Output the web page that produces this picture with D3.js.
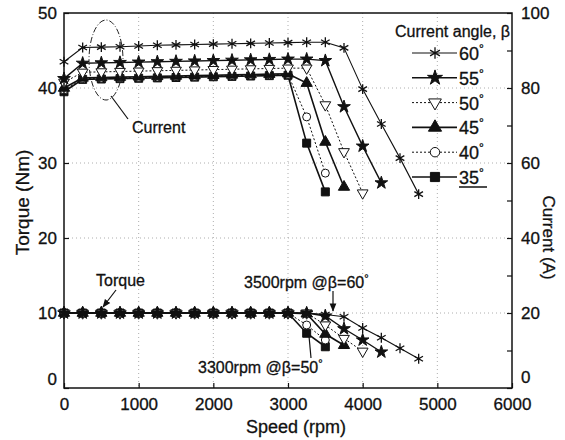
<!DOCTYPE html>
<html>
<head>
<meta charset="utf-8">
<script src="https://cdn.jsdelivr.net/npm/d3@7"></script>
<style>
  body { margin: 0; background: #fff; }
  svg text { font-family: "Liberation Sans", Arial, sans-serif; fill: #111; }
</style>
</head>
<body>
<svg width="565" height="440"></svg>
<script>
// speed points (rpm), markers every 250 rpm
var speeds = [0, 250, 500, 750, 1000, 1250, 1500, 1750, 2000, 2250, 2500, 2750, 3000, 3250, 3500, 3750, 4000, 4250, 4500, 4750];

var angles = ["60", "55", "50", "45", "40", "35"];

// current (A), right axis
var current60 = [87.0, 90.8, 90.9, 91.0, 91.2, 91.4, 91.5, 91.6, 91.7, 91.8, 91.9, 92.0, 92.1, 92.2, 92.2, 90.7, 79.7, 70.4, 61.3, 51.7];
var current55 = [82.5, 86.6, 86.7, 86.8, 86.9, 87.0, 87.1, 87.2, 87.3, 87.4, 87.5, 87.6, 87.7, 87.7, 87.3, 75.0, 64.5, 54.7];
var current50 = [81.5, 84.2, 84.3, 84.4, 84.5, 84.6, 84.7, 84.8, 84.9, 85.0, 85.1, 85.2, 85.3, 85.3, 75.5, 63.0, 52.0];
var current45 = [80.0, 82.7, 82.8, 82.9, 83.0, 83.1, 83.2, 83.3, 83.4, 83.5, 83.6, 83.7, 83.8, 81.3, 65.6, 53.6];
var current40 = [79.5, 82.5, 82.6, 82.7, 82.8, 82.9, 83.0, 83.1, 83.2, 83.3, 83.4, 83.5, 83.6, 72.3, 57.3];
var current35 = [79.0, 82.3, 82.4, 82.5, 82.6, 82.7, 82.8, 82.9, 83.0, 83.1, 83.2, 83.3, 83.4, 65.3, 52.3];

// torque (Nm), left axis
var torque60 = [10.0, 10.0, 10.0, 10.0, 10.0, 10.0, 10.0, 10.0, 10.0, 10.0, 10.0, 10.0, 10.0, 10.0, 9.8, 9.5, 8.0, 6.7, 5.3, 3.9];
var torque55 = [10.0, 10.0, 10.0, 10.0, 10.0, 10.0, 10.0, 10.0, 10.0, 10.0, 10.0, 10.0, 10.0, 10.0, 9.6, 7.9, 6.4, 4.8];
var torque50 = [10.0, 10.0, 10.0, 10.0, 10.0, 10.0, 10.0, 10.0, 10.0, 10.0, 10.0, 10.0, 10.0, 10.0, 8.4, 6.6, 4.9];
var torque45 = [10.0, 10.0, 10.0, 10.0, 10.0, 10.0, 10.0, 10.0, 10.0, 10.0, 10.0, 10.0, 10.0, 9.9, 7.2, 5.7];
var torque40 = [10.0, 10.0, 10.0, 10.0, 10.0, 10.0, 10.0, 10.0, 10.0, 10.0, 10.0, 10.0, 10.0, 8.4, 6.4];
var torque35 = [10.0, 10.0, 10.0, 10.0, 10.0, 10.0, 10.0, 10.0, 10.0, 10.0, 10.0, 10.0, 10.0, 7.3, 5.5];

var xTicks = [0, 1000, 2000, 3000, 4000, 5000, 6000];
var leftTicks = [0, 10, 20, 30, 40, 50];
var rightTicks = [0, 20, 40, 60, 80, 100];

var currents = [current60, current55, current50, current45, current40, current35];
var torques = [torque60, torque55, torque50, torque45, torque40, torque35];

// styles per series
var styles = [
    { symbol: d3.symbolAsterisk, size: 70, fill: "none", dash: null, width: 1.1 },
    { symbol: d3.symbolStar, size: 50, fill: "#111", dash: null, width: 1.4 },
    { symbol: d3.symbolTriangle, size: 50, fill: "#fff", dash: "2,2", width: 1.0, rotate: 180 },
    { symbol: d3.symbolTriangle, size: 55, fill: "#111", dash: null, width: 1.6 },
    { symbol: d3.symbolCircle, size: 50, fill: "#fff", dash: "2,2", width: 1.0 },
    { symbol: d3.symbolSquare, size: 64, fill: "#111", dash: null, width: 1.6 }
];

// plot box (don't use "top" - clashes with window.top)
var pLeft = 64, pRight = 512, pTop = 13, pBottom = 388;

var svg = d3.select("svg");

var x = d3.scaleLinear().domain([0, 6000]).range([pLeft, pRight]);
var yL = d3.scaleLinear().domain([0, 50]).range([pBottom, pTop]);
var yR = d3.scaleLinear().domain([0, 100]).range([pBottom, pTop]);

// grid
var grid = svg.append("g").attr("stroke", "#999").attr("stroke-width", 0.8).attr("stroke-dasharray", "1,3");
grid.selectAll(".gx").data(xTicks.slice(1, -1)).enter().append("line")
    .attr("x1", function (d) { return x(d); }).attr("x2", function (d) { return x(d); })
    .attr("y1", pTop).attr("y2", pBottom);
grid.selectAll(".gy").data(leftTicks.slice(1, -1)).enter().append("line")
    .attr("y1", function (d) { return yL(d); }).attr("y2", function (d) { return yL(d); })
    .attr("x1", pLeft).attr("x2", pRight);

var plot = svg.append("g");

function drawSeries(vals, yScale, st) {
    var pts = vals.map(function (v, i) { return [speeds[i], v]; });
    var line = d3.line()
        .x(function (d) { return x(d[0]); })
        .y(function (d) { return yScale(d[1]); });
    plot.append("path")
        .datum(pts)
        .attr("d", line)
        .attr("fill", "none")
        .attr("stroke", "#111")
        .attr("stroke-width", st.width)
        .attr("stroke-dasharray", st.dash);
    plot.selectAll(null).data(pts).enter().append("path")
        .attr("d", d3.symbol().type(st.symbol).size(st.size))
        .attr("transform", function (d) {
            return "translate(" + x(d[0]) + "," + yScale(d[1]) + ")" + (st.rotate ? " rotate(" + st.rotate + ")" : "");
        })
        .attr("fill", st.fill)
        .attr("stroke", "#111")
        .attr("stroke-width", st.fill === "none" ? 1.3 : 1);
}

for (var i = angles.length - 1; i >= 0; i--) {
    drawSeries(currents[i], yR, styles[i]);
    drawSeries(torques[i], yL, styles[i]);
}

// axes
var fontSize = "17px";
var axL = svg.append("g").attr("transform", "translate(" + pLeft + ",0)")
    .call(d3.axisLeft(yL).tickValues(leftTicks).tickSizeInner(-5).tickSizeOuter(0).tickPadding(7));
var axR = svg.append("g").attr("transform", "translate(" + pRight + ",0)")
    .call(d3.axisRight(yR).tickValues(d3.range(0, 101, 10)).tickSizeInner(-5).tickSizeOuter(0).tickPadding(9)
        .tickFormat(function (d) { return rightTicks.indexOf(d) >= 0 ? d : ""; }));
var axB = svg.append("g").attr("transform", "translate(0," + pBottom + ")")
    .call(d3.axisBottom(x).tickValues(xTicks).tickSizeInner(-5).tickSizeOuter(0).tickPadding(10)
        .tickFormat(d3.format("d")));
[axL, axR, axB].forEach(function (a) {
    a.select(".domain").remove();
    a.selectAll("line").attr("stroke", "#111").attr("stroke-width", 1.2);
    a.selectAll("text").attr("font-size", fontSize).attr("stroke", "#111").attr("stroke-width", 0.3)
        .style("font-family", "'Liberation Sans', Arial, sans-serif");
});
// the two "0" labels at the corner sit a bit higher, like the original
axL.selectAll(".tick").filter(function (d) { return d === 0; }).select("text").attr("dy", "-0.2em");
axR.selectAll(".tick").filter(function (d) { return d === 0; }).select("text").attr("dy", "-0.3em");

// frame
svg.append("rect")
    .attr("x", pLeft).attr("y", pTop)
    .attr("width", pRight - pLeft).attr("height", pBottom - pTop)
    .attr("fill", "none").attr("stroke", "#111").attr("stroke-width", 1.5);

// axis titles
svg.append("text")
    .attr("transform", "translate(29," + ((pTop + pBottom) / 2 + 2) + ") rotate(-90)")
    .attr("text-anchor", "middle").attr("font-size", "19px").attr("stroke", "#111").attr("stroke-width", 0.3)
    .text("Torque (Nm)");
svg.append("text")
    .attr("transform", "translate(543," + ((pTop + pBottom) / 2 + 37) + ") rotate(90)")
    .attr("text-anchor", "middle").attr("font-size", "17px").attr("stroke", "#111").attr("stroke-width", 0.3)
    .text("Current (A)");
svg.append("text")
    .attr("x", 296).attr("y", 433)
    .attr("text-anchor", "middle").attr("font-size", "18px").attr("stroke", "#111").attr("stroke-width", 0.3)
    .text("Speed (rpm)");

// legend
var lg = svg.append("g");
lg.append("text").attr("x", 510).attr("y", 37).attr("text-anchor", "end")
    .attr("font-size", "16px").attr("stroke", "#111").attr("stroke-width", 0.3)
    .text("Current angle, \u03b2");
angles.forEach(function (a, i) {
    var st = styles[i];
    var yy = 53 + i * 24.8;
    lg.append("line").attr("x1", 412).attr("x2", 457).attr("y1", yy).attr("y2", yy)
        .attr("stroke", "#111").attr("stroke-width", st.width).attr("stroke-dasharray", st.dash);
    lg.append("path")
        .attr("d", d3.symbol().type(st.symbol).size(st.size + 20))
        .attr("transform", "translate(435," + yy + ")" + (st.rotate ? " rotate(" + st.rotate + ")" : ""))
        .attr("fill", st.fill).attr("stroke", "#111").attr("stroke-width", st.fill === "none" ? 1.3 : 1);
    var t = lg.append("text").attr("x", 459).attr("y", yy + 7)
        .attr("font-size", "18px").attr("stroke", "#111").attr("stroke-width", 0.3);
    t.append("tspan").text(a);
    t.append("tspan").attr("dy", -7).attr("font-size", "12px").text("\u00b0");
    if (i === 5) {
        lg.append("line").attr("x1", 459).attr("x2", 487).attr("y1", yy + 10).attr("y2", yy + 10)
            .attr("stroke", "#111").attr("stroke-width", 1.5);
    }
});

// annotations
var ann = svg.append("g");
ann.append("ellipse").attr("cx", 106).attr("cy", 60).attr("rx", 17).attr("ry", 40)
    .attr("fill", "none").attr("stroke", "#222").attr("stroke-width", 1).attr("stroke-dasharray", "6,2,1,2");
ann.append("line").attr("x1", 111).attr("y1", 96).attr("x2", 128).attr("y2", 119)
    .attr("stroke", "#111").attr("stroke-width", 1.2);
ann.append("text").attr("x", 132).attr("y", 133).attr("font-size", "16px")
    .attr("stroke", "#111").attr("stroke-width", 0.3).text("Current");

svg.append("defs").append("marker")
    .attr("id", "arr").attr("viewBox", "0 0 10 10").attr("refX", 9).attr("refY", 5)
    .attr("markerWidth", 7).attr("markerHeight", 7).attr("orient", "auto")
    .append("path").attr("d", "M0,1L10,5L0,9Z").attr("fill", "#111");

ann.append("text").attr("x", 96).attr("y", 286).attr("font-size", "16px")
    .attr("stroke", "#111").attr("stroke-width", 0.3).text("Torque");
ann.append("line").attr("x1", 116).attr("y1", 290).attr("x2", 103).attr("y2", 307)
    .attr("stroke", "#111").attr("stroke-width", 1.2).attr("marker-end", "url(#arr)");

var t1 = ann.append("text").attr("x", 244).attr("y", 288).attr("font-size", "16px")
    .attr("stroke", "#111").attr("stroke-width", 0.3);
t1.append("tspan").text("3500rpm @\u03b2=60");
t1.append("tspan").attr("dy", -6).attr("font-size", "11px").text("\u00b0");
ann.append("line").attr("x1", 333).attr("y1", 291).attr("x2", 333).attr("y2", 311)
    .attr("stroke", "#111").attr("stroke-width", 1.2).attr("marker-end", "url(#arr)");

var t2 = ann.append("text").attr("x", 198).attr("y", 373).attr("font-size", "16px")
    .attr("stroke", "#111").attr("stroke-width", 0.3);
t2.append("tspan").text("3300rpm @\u03b2=50");
t2.append("tspan").attr("dy", -6).attr("font-size", "11px").text("\u00b0");
ann.append("line").attr("x1", 311).attr("y1", 358).attr("x2", 309).attr("y2", 336)
    .attr("stroke", "#111").attr("stroke-width", 1.2);
</script>
</body>
</html>
